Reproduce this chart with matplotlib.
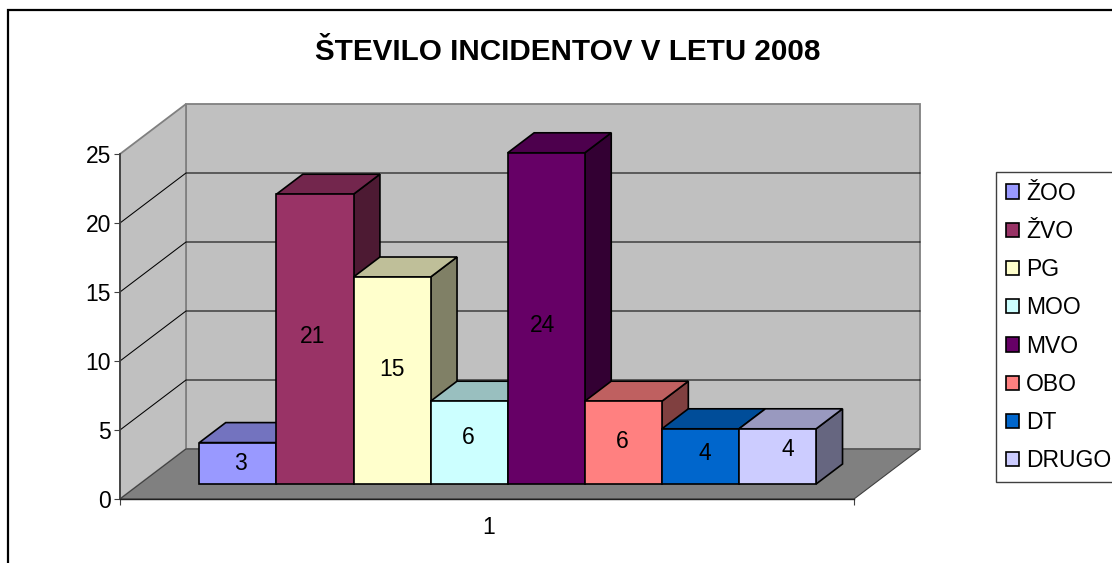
#!/usr/bin/env python3
# -*- coding: utf-8 -*-
import matplotlib
matplotlib.use('Agg')
import matplotlib.pyplot as plt
from matplotlib.patches import Patch, Polygon, Rectangle
from matplotlib.colors import to_rgb
import numpy as np

plt.rcParams['font.family'] = ['Liberation Sans', 'DejaVu Sans']

#===========================================================================================================
#    DATA
#===========================================================================================================

title = 'ŠTEVILO INCIDENTOV V LETU 2008'
categories = ['ŽOO', 'ŽVO', 'PG', 'MOO', 'MVO', 'OBO', 'DT', 'DRUGO']
values = [3, 21, 15, 6, 24, 6, 4, 4]
colors = ['#9999FF', '#993366', '#FFFFCC', '#CCFFFF', '#660066', '#FF8080', '#0066CC', '#CCCCFF']
y_ticks = [0, 5, 10, 15, 20, 25]
group_label = '1'

# label nudges in pixels, the labels in the original are not quite centred
label_dx = [3, -2, 0, -1, -4, -1, 4, 10]
label_dy = [0, 3, 11, 5, -7, 1, 3, 7]

#===========================================================================================================
#    GEOMETRY OF THE PSEUDO 3D BOX (pixels)
#===========================================================================================================

W, H = 1112, 563
x0_px, x1_px = 120., 854.
y0_px, y1_px = 499., 154.
depth_px = (66., 50.)
bar_px = 77.1
x_span = (x1_px - x0_px) / bar_px
y_span = 25.

ux = bar_px
uy = (y0_px - y1_px) / y_span


def proj(x, y, d):
    """data coordinates + depth fraction -> axes data coordinates"""
    return (x + d * depth_px[0] / ux, y + d * depth_px[1] / uy)


def shade(c, f):
    return tuple(np.array(to_rgb(c)) * f)


fig = plt.figure(figsize=(W / 100., H / 100.), dpi=100)
fig.patch.set_facecolor('white')
ax = fig.add_axes([x0_px / W, 1 - y0_px / H, (x1_px - x0_px) / W, (y0_px - y1_px) / H])
ax.set_xlim(0, x_span)
ax.set_ylim(0, y_span)
ax.patch.set_visible(False)

# chart border
fig.add_artist(Rectangle((8. / W, -0.1), 1.2, 0.1 + 1 - 10. / H, transform=fig.transFigure,
                         fc='none', ec='black', lw=1.6))

wall_edge = '#808080'

# back wall, side wall and floor
ax.add_patch(Polygon([proj(0, 0, 1), proj(x_span, 0, 1), proj(x_span, y_span, 1), proj(0, y_span, 1)],
                     fc='#C0C0C0', ec=wall_edge, lw=1.3, clip_on=False, zorder=1))
ax.add_patch(Polygon([proj(0, 0, 0), proj(0, 0, 1), proj(0, y_span, 1), proj(0, y_span, 0)],
                     fc='#C0C0C0', ec=wall_edge, lw=1.3, clip_on=False, zorder=1))
ax.add_patch(Polygon([proj(0, 0, 0), proj(x_span, 0, 0), proj(x_span, 0, 1), proj(0, 0, 1)],
                     fc='#808080', ec='#404040', lw=0.8, clip_on=False, zorder=1))

# gridlines on both walls
for t in y_ticks[1:-1]:
    xs, ys = zip(proj(0, t, 0), proj(0, t, 1), proj(x_span, t, 1))
    ax.plot(xs, ys, color='black', lw=0.75, clip_on=False, zorder=2, solid_joinstyle='miter')

# bars
bar_start = 0.30
bar_end = 0.70
gap = (x_span - len(values)) / 2. + 0.012
for i, (v, c) in enumerate(zip(values, colors)):
    left = gap + i
    z = 3 + i
    fx, base = proj(left, 0, bar_start)
    ax.bar(fx, v, width=1, bottom=base, align='edge', color=c, edgecolor='black', lw=1.2,
           clip_on=False, zorder=z + 0.2)
    dd = bar_end - bar_start
    top_pts = [(fx, base + v), (fx + 1, base + v),
               proj(fx + 1, base + v, dd), proj(fx, base + v, dd)]
    side_pts = [(fx + 1, base), proj(fx + 1, base, dd),
                proj(fx + 1, base + v, dd), (fx + 1, base + v)]
    ax.add_patch(Polygon(side_pts, fc=shade(c, 0.5), ec='black', lw=1.2, clip_on=False, zorder=z))
    ax.add_patch(Polygon(top_pts, fc=shade(c, 0.75), ec='black', lw=1.2, clip_on=False, zorder=z + 0.1))
    ax.annotate(str(v), xy=(fx + 0.5, base + v / 2.), xytext=(label_dx[i] * 0.72, label_dy[i] * 0.72),
                textcoords='offset points', ha='center', va='center', fontsize=16.5, color='black',
                zorder=20, annotation_clip=False)

# axes
for s in ['top', 'right']:
    ax.spines[s].set_visible(False)
ax.spines['left'].set_color('#404040')
ax.spines['left'].set_linewidth(1.3)
ax.spines['bottom'].set_color('#202020')
ax.spines['bottom'].set_linewidth(1.0)
ax.spines['left'].set_zorder(15)
ax.spines['bottom'].set_zorder(15)
ax.set_yticks(y_ticks)
ax.set_xticks([0, x_span])
ax.set_xticklabels(['', ''])
ax.set_xticks([x_span / 2. + 0.025], labels=[group_label], minor=True)
ax.tick_params(axis='y', length=4.5, width=0.8, color='#404040', labelsize=16.5, pad=2)
ax.tick_params(axis='x', which='major', length=4.5, width=0.8, color='#404040')
ax.tick_params(axis='x', which='minor', length=0, labelsize=16.5, pad=12)

fig.text(568. / W, 1 - 52. / H, title, ha='center', va='center', fontsize=21.3, fontweight='bold')

# legend
handles = [Patch(facecolor=c, edgecolor='black', lw=1.2, label=n) for n, c in zip(categories, colors)]
fig.legend(handles=handles, loc='upper left', bbox_to_anchor=(996. / W, 1 - 172. / H),
           bbox_transform=fig.transFigure, fancybox=False, edgecolor='#404040', framealpha=1,
           fontsize=16.5, handlelength=0.58, handleheight=0.58, handletextpad=0.32,
           labelspacing=0.665, borderpad=0.42, borderaxespad=0)

plt.savefig('out.png', dpi=100)
